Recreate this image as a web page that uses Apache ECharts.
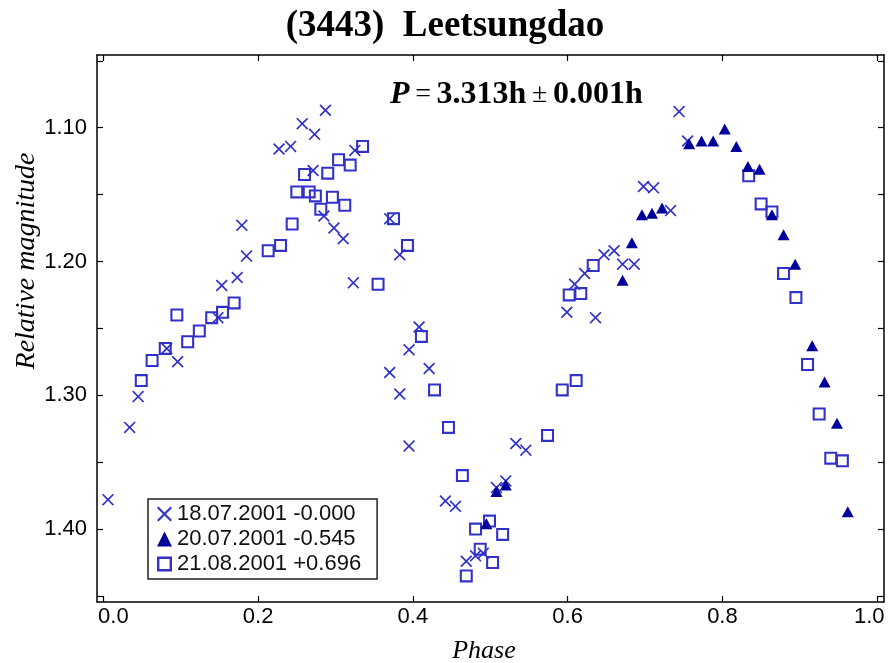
<!DOCTYPE html>
<html>
<head>
<meta charset="utf-8">
<script src="https://cdn.jsdelivr.net/npm/echarts@6/dist/echarts.min.js"></script>
<style>
  html, body { margin: 0; padding: 0; background: #fff; }
  #chart { width: 890px; height: 663px; }
</style>
</head>
<body>
<div id="chart"></div>
<script>
// [phase, relative magnitude]
var night1 = [ // 18.07.2001 -0.000
  [0.006, 1.378], [0.034, 1.324], [0.045, 1.301], [0.082, 1.265], [0.096, 1.275],
  [0.148, 1.242], [0.153, 1.218], [0.173, 1.212], [0.185, 1.196], [0.179, 1.173],
  [0.227, 1.116], [0.242, 1.114], [0.257, 1.097], [0.273, 1.105], [0.287, 1.087],
  [0.271, 1.132], [0.285, 1.166], [0.298, 1.175], [0.310, 1.183], [0.325, 1.117],
  [0.323, 1.216], [0.370, 1.168], [0.383, 1.195], [0.408, 1.249], [0.395, 1.266],
  [0.370, 1.283], [0.421, 1.280], [0.383, 1.299], [0.395, 1.338], [0.442, 1.379],
  [0.455, 1.383], [0.469, 1.424], [0.481, 1.420], [0.491, 1.418], [0.508, 1.369],
  [0.520, 1.364], [0.533, 1.336], [0.546, 1.341], [0.599, 1.238], [0.609, 1.217],
  [0.622, 1.209], [0.647, 1.195], [0.660, 1.192], [0.636, 1.242], [0.671, 1.202],
  [0.686, 1.202], [0.698, 1.144], [0.711, 1.145], [0.733, 1.162], [0.744, 1.088],
  [0.755, 1.110]
];
var night2 = [ // 20.07.2001 -0.545
  [0.495, 1.396], [0.508, 1.372], [0.520, 1.367], [0.671, 1.214], [0.683, 1.186],
  [0.696, 1.165], [0.709, 1.164], [0.722, 1.160], [0.757, 1.112], [0.773, 1.110],
  [0.788, 1.110], [0.803, 1.101], [0.818, 1.114], [0.833, 1.129], [0.848, 1.131],
  [0.864, 1.165], [0.879, 1.180], [0.894, 1.202], [0.916, 1.263], [0.932, 1.290],
  [0.948, 1.321], [0.962, 1.387]
];
var night3 = [ // 21.08.2001 +0.696
  [0.049, 1.289], [0.063, 1.274], [0.080, 1.265], [0.095, 1.240], [0.109, 1.260],
  [0.124, 1.252], [0.140, 1.242], [0.154, 1.238], [0.169, 1.231], [0.213, 1.192],
  [0.229, 1.188], [0.244, 1.172], [0.250, 1.148], [0.266, 1.148], [0.274, 1.151],
  [0.260, 1.135], [0.281, 1.161], [0.290, 1.134], [0.296, 1.152], [0.304, 1.124],
  [0.312, 1.158], [0.319, 1.128], [0.335, 1.114], [0.355, 1.217], [0.375, 1.168],
  [0.393, 1.188], [0.411, 1.256], [0.428, 1.296], [0.446, 1.324], [0.464, 1.360],
  [0.481, 1.400], [0.499, 1.394], [0.516, 1.404], [0.487, 1.415], [0.503, 1.425],
  [0.469, 1.435], [0.574, 1.330], [0.593, 1.296], [0.611, 1.289], [0.602, 1.225],
  [0.617, 1.224], [0.633, 1.203], [0.834, 1.136], [0.850, 1.157], [0.864, 1.163],
  [0.879, 1.209], [0.895, 1.227], [0.910, 1.277], [0.925, 1.314], [0.940, 1.347],
  [0.955, 1.349]
];
var seriesNames = ['18.07.2001 -0.000', '20.07.2001 -0.545', '21.08.2001 +0.696'];
var xTicks = [0, 0.2, 0.4, 0.6, 0.8, 1.0];
var yLabels = [1.10, 1.20, 1.30, 1.40];
var yTicks = [1.05, 1.10, 1.15, 1.20, 1.25, 1.30, 1.35, 1.40, 1.45];

var crossPath = 'path://M0,1L1,0L5,4L9,0L10,1L6,5L10,9L9,10L5,6L1,10L0,9L4,5Z';
var squarePath = 'path://M0,0H10V10H0Z M1.6,1.6V8.4H8.4V1.6Z';
var blue = '#3232c8';
var navy = '#00009a';
var sans = "'Liberation Sans', Arial, sans-serif";
var serif = "'Liberation Serif', 'Times New Roman', serif";

var myChart = echarts.init(document.getElementById('chart'));

var lineStyle = { color: '#000', width: 1.5 };
var tickStyle = { color: '#000', width: 1.2 };

var option = {
  backgroundColor: '#fff',
  animation: false,
  title: {
    text: '(3443)  Leetsungdao',
    left: 'center',
    top: 3,
    textStyle: { fontFamily: serif, fontWeight: 'bold', fontSize: 37, color: '#000' }
  },
  grid: { left: 97, right: 6, top: 55, bottom: 61, containLabel: false },
  legend: {
    orient: 'vertical',
    left: 148,
    top: 499,
    selectedMode: false,
    data: seriesNames,
    itemWidth: 15,
    itemHeight: 15,
    itemGap: 3,
    padding: [4, 16, 4, 9],
    borderColor: '#222',
    borderWidth: 1.5,
    backgroundColor: '#fff',
    textStyle: { fontFamily: sans, fontSize: 22, color: '#111' }
  },
  xAxis: [{
    type: 'value',
    min: -0.0082,
    max: 1.0088,
    splitLine: { show: false },
    axisLine: { onZero: false, lineStyle: lineStyle },
    axisTick: { inside: true, length: 6, lineStyle: tickStyle, customValues: xTicks },
    axisLabel: {
      customValues: xTicks,
      margin: 4,
      fontFamily: sans,
      fontSize: 22,
      color: '#000',
      formatter: function (v) {
        if (v === 0) return '{a|0.0}';
        if (v === 1) return '{b|1.0}';
        return v.toFixed(1);
      },
      rich: {
        a: { fontFamily: sans, fontSize: 22, color: '#000', padding: [0, 0, 0, 20] },
        b: { fontFamily: sans, fontSize: 22, color: '#000', padding: [0, 16, 0, 0] }
      }
    }
  }, {
    type: 'value',
    position: 'top',
    min: -0.0082,
    max: 1.0088,
    splitLine: { show: false },
    axisLine: { onZero: false, lineStyle: lineStyle },
    axisTick: { inside: true, length: 6, lineStyle: tickStyle, customValues: xTicks },
    axisLabel: { show: false }
  }],
  yAxis: [{
    type: 'value',
    inverse: true,
    min: 1.0457,
    max: 1.4545,
    splitLine: { show: false },
    axisLine: { show: true, onZero: false, lineStyle: lineStyle },
    axisTick: { show: true, inside: true, length: 6, lineStyle: tickStyle, customValues: yTicks },
    axisLabel: {
      customValues: yLabels,
      margin: 10,
      fontFamily: sans,
      fontSize: 22,
      color: '#000',
      formatter: function (v) { return v.toFixed(2); }
    }
  }, {
    type: 'value',
    position: 'right',
    inverse: true,
    min: 1.0457,
    max: 1.4545,
    splitLine: { show: false },
    axisLine: { show: true, onZero: false, lineStyle: lineStyle },
    axisTick: { show: true, inside: true, length: 6, lineStyle: tickStyle, customValues: yTicks },
    axisLabel: { show: false }
  }],
  graphic: [{
    type: 'text',
    x: 27,
    y: 261,
    rotation: Math.PI / 2,
    style: {
      text: 'Relative magnitude',
      font: 'italic 28px ' + serif,
      fill: '#000',
      align: 'center',
      verticalAlign: 'middle'
    }
  }, {
    type: 'text',
    x: 484,
    y: 651,
    style: {
      text: 'Phase',
      font: 'italic 26px ' + serif,
      fill: '#000',
      align: 'center',
      verticalAlign: 'middle'
    }
  }, {
    type: 'text',
    x: 390,
    y: 95,
    style: {
      text: '{i|P}{n|\u2009=\u2009}{b|3.313h}{n|\u2009±\u2009}{b|0.001h}',
      verticalAlign: 'middle',
      rich: {
        i: { fontFamily: serif, fontStyle: 'italic', fontWeight: 'bold', fontSize: 32, fill: '#000' },
        n: { fontFamily: serif, fontSize: 28, fill: '#000' },
        b: { fontFamily: serif, fontWeight: 'bold', fontSize: 32, fill: '#000' }
      }
    }
  }],
  series: [{
    name: seriesNames[0],
    type: 'scatter',
    data: night1,
    symbol: crossPath,
    symbolSize: 12,
    itemStyle: { color: blue, opacity: 1 }
  }, {
    name: seriesNames[2],
    type: 'scatter',
    data: night3,
    symbol: squarePath,
    symbolSize: 13,
    itemStyle: { color: blue, opacity: 1 }
  }, {
    name: seriesNames[1],
    type: 'scatter',
    data: night2,
    symbol: 'triangle',
    symbolSize: [12, 11],
    itemStyle: { color: navy, opacity: 1 }
  }]
};
myChart.setOption(option);
</script>
</body>
</html>
